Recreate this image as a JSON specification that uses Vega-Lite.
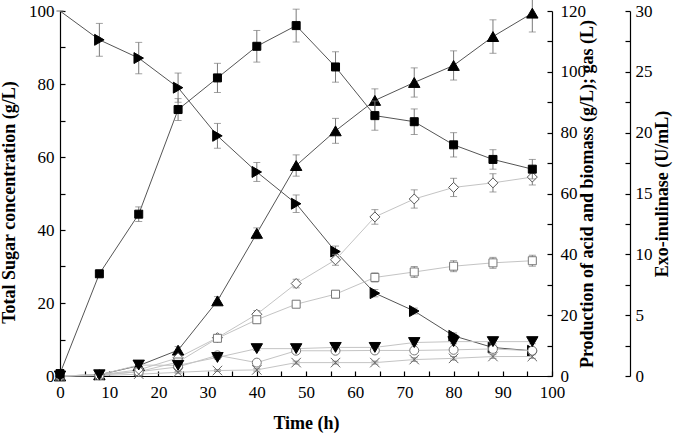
{
"$schema": "https://vega.github.io/schema/vega-lite/v6.json",
"width": 492, "height": 365,
"autosize": "none",
"padding": {"left": 60, "top": 11, "right": 123, "bottom": 62},
"background": "white",
"config": {
  "view": {"stroke": null},
  "axis": {"grid": false, "domainColor": "#000", "tickColor": "#000", "labelColor": "#000", "titleColor": "#000",
    "labelFont": "Liberation Serif", "labelFontSize": 17, "titleFont": "Liberation Serif", "titleFontSize": 18, "titleFontWeight": "bold",
    "domainWidth": 1.2, "tickWidth": 1.2}
},
"datasets": {
  "sugar": [
    {"s":"sugar","t":0,"v":100,"e":0},{"s":"sugar","t":8,"v":92.1,"e":4.5},{"s":"sugar","t":16,"v":87.1,"e":4.3},{"s":"sugar","t":24,"v":79.0,"e":4.0},
    {"s":"sugar","t":32,"v":65.8,"e":3.4},{"s":"sugar","t":40,"v":55.9,"e":2.6},{"s":"sugar","t":48,"v":47.2,"e":2.4},{"s":"sugar","t":56,"v":34.1,"e":1.5},
    {"s":"sugar","t":64,"v":22.7,"e":1.0},{"s":"sugar","t":72,"v":17.8,"e":0.8},{"s":"sugar","t":80,"v":11.0,"e":0.8},{"s":"sugar","t":88,"v":7.8,"e":0.6},{"s":"sugar","t":96,"v":6.9,"e":0.6}
  ],
  "exo": [
    {"s":"exo","t":0,"v":0.2,"e":0.1},{"s":"exo","t":8,"v":8.4,"e":0.3},{"s":"exo","t":16,"v":13.3,"e":0.6},{"s":"exo","t":24,"v":21.9,"e":0.9},
    {"s":"exo","t":32,"v":24.5,"e":1.2},{"s":"exo","t":40,"v":27.1,"e":1.3},{"s":"exo","t":48,"v":28.8,"e":1.35},{"s":"exo","t":56,"v":25.4,"e":1.25},
    {"s":"exo","t":64,"v":21.4,"e":1.2},{"s":"exo","t":72,"v":20.9,"e":1.05},{"s":"exo","t":80,"v":19.0,"e":1.0},{"s":"exo","t":88,"v":17.8,"e":0.8},{"s":"exo","t":96,"v":17.0,"e":0.8}
  ],
  "acid": [
    {"s":"gas","t":0,"v":0,"e":0},{"s":"gas","t":8,"v":0.4,"e":0.2},{"s":"gas","t":16,"v":3.4,"e":0.6},{"s":"gas","t":24,"v":8.5,"e":1.2},
    {"s":"gas","t":32,"v":24.7,"e":1.4},{"s":"gas","t":40,"v":46.9,"e":1.8},{"s":"gas","t":48,"v":69.2,"e":3.5},{"s":"gas","t":56,"v":80.6,"e":4.1},
    {"s":"gas","t":64,"v":90.6,"e":3.8},{"s":"gas","t":72,"v":96.5,"e":4.8},{"s":"gas","t":80,"v":102.1,"e":4.8},{"s":"gas","t":88,"v":111.6,"e":5.5},{"s":"gas","t":96,"v":119.3,"e":6.2},
    {"s":"diamond","t":0,"v":0,"e":0},{"s":"diamond","t":8,"v":0.4,"e":0.2},{"s":"diamond","t":16,"v":2.0,"e":0.5},{"s":"diamond","t":24,"v":6.0,"e":0.7},
    {"s":"diamond","t":32,"v":12.6,"e":1.0},{"s":"diamond","t":40,"v":20.3,"e":1.2},{"s":"diamond","t":48,"v":30.4,"e":1.4},{"s":"diamond","t":56,"v":38.2,"e":1.8},
    {"s":"diamond","t":64,"v":52.3,"e":2.4},{"s":"diamond","t":72,"v":58.2,"e":3.0},{"s":"diamond","t":80,"v":62.0,"e":3.0},{"s":"diamond","t":88,"v":63.5,"e":3.0},{"s":"diamond","t":96,"v":65.4,"e":2.6},
    {"s":"open_square","t":0,"v":0,"e":0},{"s":"open_square","t":8,"v":0.4,"e":0.2},{"s":"open_square","t":16,"v":1.4,"e":0.3},{"s":"open_square","t":24,"v":4.6,"e":0.5},
    {"s":"open_square","t":32,"v":12.4,"e":0.8},{"s":"open_square","t":40,"v":18.5,"e":1.0},{"s":"open_square","t":48,"v":23.6,"e":1.0},{"s":"open_square","t":56,"v":26.9,"e":1.2},
    {"s":"open_square","t":64,"v":32.4,"e":1.5},{"s":"open_square","t":72,"v":34.2,"e":1.8},{"s":"open_square","t":80,"v":36.1,"e":1.8},{"s":"open_square","t":88,"v":37.2,"e":1.8},{"s":"open_square","t":96,"v":37.9,"e":1.8},
    {"s":"circle","t":0,"v":0,"e":0},{"s":"circle","t":8,"v":0.2,"e":0.1},{"s":"circle","t":16,"v":1.4,"e":0.3},{"s":"circle","t":24,"v":3.0,"e":0.4},
    {"s":"circle","t":32,"v":6.8,"e":0.6},{"s":"circle","t":40,"v":4.4,"e":0.6},{"s":"circle","t":48,"v":8.3,"e":0.7},{"s":"circle","t":56,"v":8.3,"e":0.7},
    {"s":"circle","t":64,"v":8.4,"e":0.8},{"s":"circle","t":72,"v":8.4,"e":0.8},{"s":"circle","t":80,"v":8.6,"e":0.8},{"s":"circle","t":88,"v":8.9,"e":0.8},{"s":"circle","t":96,"v":8.3,"e":0.8},
    {"s":"cross_x","t":0,"v":0,"e":0},{"s":"cross_x","t":8,"v":0.1,"e":0.1},{"s":"cross_x","t":16,"v":0.6,"e":0.2},{"s":"cross_x","t":24,"v":1.2,"e":0.3},
    {"s":"cross_x","t":32,"v":1.8,"e":0.3},{"s":"cross_x","t":40,"v":2.0,"e":0.4},{"s":"cross_x","t":48,"v":4.4,"e":0.5},{"s":"cross_x","t":56,"v":4.4,"e":0.5},
    {"s":"cross_x","t":64,"v":4.4,"e":0.5},{"s":"cross_x","t":72,"v":5.4,"e":0.6},{"s":"cross_x","t":80,"v":5.8,"e":0.6},{"s":"cross_x","t":88,"v":6.4,"e":0.6},{"s":"cross_x","t":96,"v":6.4,"e":0.6},
    {"s":"tri_down","t":0,"v":0,"e":0},{"s":"tri_down","t":8,"v":0.4,"e":0.1},{"s":"tri_down","t":16,"v":3.6,"e":0.3},{"s":"tri_down","t":24,"v":3.5,"e":0.4},
    {"s":"tri_down","t":32,"v":6.1,"e":0.5},{"s":"tri_down","t":40,"v":9.0,"e":0.6},{"s":"tri_down","t":48,"v":9.0,"e":0.6},{"s":"tri_down","t":56,"v":9.4,"e":0.6},
    {"s":"tri_down","t":64,"v":9.4,"e":0.6},{"s":"tri_down","t":72,"v":11.0,"e":0.7},{"s":"tri_down","t":80,"v":11.3,"e":0.7},{"s":"tri_down","t":88,"v":11.3,"e":0.7},{"s":"tri_down","t":96,"v":11.3,"e":0.7}
  ]
},
"encoding": {
  "x": {"field": "t", "type": "quantitative", "scale": {"domain": [0, 100], "nice": false},
    "axis": {"title": "Time (h)", "values": [0,5,10,15,20,25,30,35,40,45,50,55,60,65,70,75,80,85,90,95,100],
      "labelExpr": "datum.value % 10 === 0 ? datum.label : ''", "tickSize": -5, "labelPadding": 13, "titlePadding": 14, "labelFlush": false}}
},
"layer": [
  {
    "data": {"name": "sugar"},
    "encoding": {"y": {"field": "v", "type": "quantitative", "scale": {"domain": [0, 100], "nice": false},
      "axis": {"orient": "left", "title": "Total Sugar concentration (g/L)", "values": [0,10,20,30,40,50,60,70,80,90,100],
        "labelExpr": "datum.value % 20 === 0 ? datum.label : ''", "tickSize": -5, "labelPadding": 11, "titlePadding": 10, "titleY": 191}}},
    "layer": [
      {"mark": {"type": "line", "strokeWidth": 1}, "encoding": {"color": {"field": "s", "type": "nominal", "legend": null,
        "scale": {"domain": ["sugar","exo","gas","tri_down","diamond","open_square","circle","cross_x"], "range": ["#555555","#555555","#555555","#c4c4c4","#c4c4c4","#c4c4c4","#c4c4c4","#c4c4c4"]}}}},
      {"mark": {"type": "errorbar", "color": "#7a7a7a", "thickness": 1, "ticks": {"size": 7}}, "encoding": {"yError": {"field": "e"}}},
      {"transform": [{"filter": "datum.t > 0"}],
       "mark": {"type": "point", "opacity": 1, "strokeWidth": 1}, "encoding": {
        "shape": {"field": "s", "type": "nominal", "legend": null, "scale": {"domain": ["sugar","exo","gas","tri_down","diamond","open_square","circle","cross_x"], "range": ["triangle-right","square","triangle-up","triangle-down","diamond","square","circle","M-1,-1L1,1M-1,1L1,-1"]}},
        "fill": {"field": "s", "type": "nominal", "legend": null, "scale": {"domain": ["sugar","exo","gas","tri_down","diamond","open_square","circle","cross_x"], "range": ["#000000","#000000","#000000","#000000","#ffffff","#ffffff","#ffffff","transparent"]}},
        "stroke": {"field": "s", "type": "nominal", "legend": null, "scale": {"domain": ["sugar","exo","gas","tri_down","diamond","open_square","circle","cross_x"], "range": ["#000000","#000000","#000000","#000000","#555555","#777777","#777777","#666666"]}},
        "size": {"field": "s", "type": "nominal", "legend": null, "scale": {"type": "ordinal", "domain": ["sugar","exo","gas","tri_down","diamond","open_square","circle","cross_x"], "range": [120,64,130,130,100,64,80,90]}}
      }}
    ]
  },
  {
    "data": {"name": "acid"},
    "encoding": {"y": {"field": "v", "type": "quantitative", "scale": {"domain": [0, 120], "nice": false},
      "axis": {"orient": "right", "title": "Production of acid  and biomass (g/L); gas (L)", "values": [0,10,20,30,40,50,60,70,80,90,100,110,120],
        "labelExpr": "datum.value % 20 === 0 ? datum.label : ''", "tickSize": -5, "labelPadding": 13, "titlePadding": 11, "titleAngle": 270}}},
    "layer": [
      {"mark": {"type": "line", "strokeWidth": 1}, "encoding": {"color": {"field": "s", "type": "nominal", "legend": null,
        "scale": {"domain": ["sugar","exo","gas","tri_down","diamond","open_square","circle","cross_x"], "range": ["#555555","#555555","#555555","#c4c4c4","#c4c4c4","#c4c4c4","#c4c4c4","#c4c4c4"]}}}},
      {"mark": {"type": "errorbar", "color": "#7a7a7a", "thickness": 1, "ticks": {"size": 7}}, "encoding": {"yError": {"field": "e"}}},
      {"mark": {"type": "point", "opacity": 1, "strokeWidth": 1}, "encoding": {
        "shape": {"field": "s", "type": "nominal", "legend": null, "scale": {"domain": ["sugar","exo","gas","tri_down","diamond","open_square","circle","cross_x"], "range": ["triangle-right","square","triangle-up","triangle-down","diamond","square","circle","M-1,-1L1,1M-1,1L1,-1"]}},
        "fill": {"field": "s", "type": "nominal", "legend": null, "scale": {"domain": ["sugar","exo","gas","tri_down","diamond","open_square","circle","cross_x"], "range": ["#000000","#000000","#000000","#000000","#ffffff","#ffffff","#ffffff","transparent"]}},
        "stroke": {"field": "s", "type": "nominal", "legend": null, "scale": {"domain": ["sugar","exo","gas","tri_down","diamond","open_square","circle","cross_x"], "range": ["#000000","#000000","#000000","#000000","#555555","#777777","#777777","#666666"]}},
        "size": {"field": "s", "type": "nominal", "legend": null, "scale": {"type": "ordinal", "domain": ["sugar","exo","gas","tri_down","diamond","open_square","circle","cross_x"], "range": [120,64,130,130,100,64,80,90]}}
      }}
    ]
  },
  {
    "data": {"name": "exo"},
    "encoding": {"y": {"field": "v", "type": "quantitative", "scale": {"domain": [0, 30], "nice": false},
      "axis": {"orient": "right", "offset": 78, "title": "Exo-inulinase (U/mL)", "values": [0,2.5,5,7.5,10,12.5,15,17.5,20,22.5,25,27.5,30],
        "labelExpr": "datum.value % 5 === 0 ? datum.label : ''", "tickSize": -5, "labelPadding": 10, "titlePadding": 19, "titleAngle": 270}}},
    "layer": [
      {"mark": {"type": "line", "strokeWidth": 1}, "encoding": {"color": {"field": "s", "type": "nominal", "legend": null,
        "scale": {"domain": ["sugar","exo","gas","tri_down","diamond","open_square","circle","cross_x"], "range": ["#555555","#555555","#555555","#c4c4c4","#c4c4c4","#c4c4c4","#c4c4c4","#c4c4c4"]}}}},
      {"mark": {"type": "errorbar", "color": "#7a7a7a", "thickness": 1, "ticks": {"size": 7}}, "encoding": {"yError": {"field": "e"}}},
      {"mark": {"type": "point", "opacity": 1, "strokeWidth": 1}, "encoding": {
        "shape": {"field": "s", "type": "nominal", "legend": null, "scale": {"domain": ["sugar","exo","gas","tri_down","diamond","open_square","circle","cross_x"], "range": ["triangle-right","square","triangle-up","triangle-down","diamond","square","circle","M-1,-1L1,1M-1,1L1,-1"]}},
        "fill": {"field": "s", "type": "nominal", "legend": null, "scale": {"domain": ["sugar","exo","gas","tri_down","diamond","open_square","circle","cross_x"], "range": ["#000000","#000000","#000000","#000000","#ffffff","#ffffff","#ffffff","transparent"]}},
        "stroke": {"field": "s", "type": "nominal", "legend": null, "scale": {"domain": ["sugar","exo","gas","tri_down","diamond","open_square","circle","cross_x"], "range": ["#000000","#000000","#000000","#000000","#555555","#777777","#777777","#666666"]}},
        "size": {"field": "s", "type": "nominal", "legend": null, "scale": {"type": "ordinal", "domain": ["sugar","exo","gas","tri_down","diamond","open_square","circle","cross_x"], "range": [120,64,130,130,100,64,80,90]}}
      }}
    ]
  }
],
"resolve": {"scale": {"y": "independent"}, "axis": {"y": "independent"}}
}
